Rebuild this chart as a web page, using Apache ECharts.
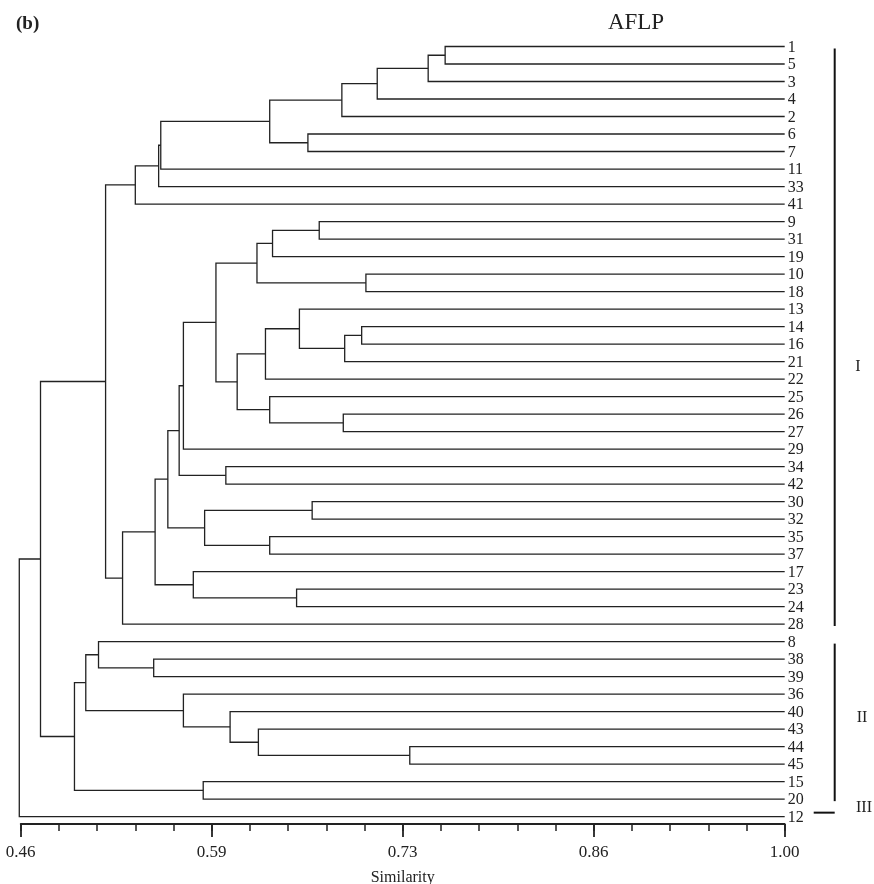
<!DOCTYPE html>
<html>
<head>
<meta charset="utf-8">
<script src="https://cdn.jsdelivr.net/npm/echarts@6/dist/echarts.min.js"></script>
<style>
  html, body { margin: 0; padding: 0; background: #fff; }
  #chart { width: 874px; height: 884px; }
</style>
</head>
<body>
<div id="chart"></div>
<script>
// leaf order from top to bottom
const leafOrder = ['1', '5', '3', '4', '2', '6', '7', '11', '33', '41',
  '9', '31', '19', '10', '18', '13', '14', '16', '21', '22',
  '25', '26', '27', '29', '34', '42', '30', '32', '35', '37',
  '17', '23', '24', '28', '8', '38', '39', '36', '40', '43',
  '44', '45', '15', '20', '12'];

// merges: [child a, child b, similarity]; 'mN' = result of merge N
const merges = [
  ['1', '5', 0.760],    // m0
  ['m0', '3', 0.748],   // m1
  ['m1', '4', 0.712],   // m2
  ['m2', '2', 0.687],   // m3
  ['6', '7', 0.663],    // m4
  ['m3', 'm4', 0.636],  // m5
  ['m5', '11', 0.559],  // m6
  ['m6', '33', 0.5575], // m7
  ['m7', '41', 0.541],  // m8
  ['9', '31', 0.671],   // m9
  ['m9', '19', 0.638],  // m10
  ['10', '18', 0.704],  // m11
  ['m10', 'm11', 0.627],// m12
  ['14', '16', 0.701],  // m13
  ['m13', '21', 0.689], // m14
  ['13', 'm14', 0.657], // m15
  ['m15', '22', 0.633], // m16
  ['26', '27', 0.688],  // m17
  ['25', 'm17', 0.636], // m18
  ['m16', 'm18', 0.613],// m19
  ['m12', 'm19', 0.598],// m20
  ['m20', '29', 0.575], // m21
  ['34', '42', 0.605],  // m22
  ['m21', 'm22', 0.572],// m23
  ['30', '32', 0.666],  // m24
  ['35', '37', 0.636],  // m25
  ['m24', 'm25', 0.590],// m26
  ['m23', 'm26', 0.564],// m27
  ['23', '24', 0.655],  // m28
  ['17', 'm28', 0.582], // m29
  ['m27', 'm29', 0.555],// m30
  ['m30', '28', 0.532], // m31
  ['m8', 'm31', 0.520], // m32
  ['38', '39', 0.554],  // m33
  ['8', 'm33', 0.515],  // m34
  ['44', '45', 0.735],  // m35
  ['43', 'm35', 0.628], // m36
  ['40', 'm36', 0.608], // m37
  ['36', 'm37', 0.575], // m38
  ['m34', 'm38', 0.506],// m39
  ['15', '20', 0.589],  // m40
  ['m39', 'm40', 0.498],// m41
  ['m32', 'm41', 0.474],// m42
  ['m42', '12', 0.459]  // m43
];

// cluster groups: [name, first leaf, last leaf]
const clusters = [['I', '1', '28'], ['II', '8', '20'], ['III', '12', '12']];

const tickValues = [0.46, 0.595, 0.73, 0.865, 1.00];
const tickLabels = ['0.46', '0.59', '0.73', '0.86', '1.00'];

const FONT = '"Liberation Serif", "DejaVu Serif", serif';
const INK = '#222';

// node positions (x = similarity, y = leaf row)
const nodePos = {};
leafOrder.forEach((l, i) => { nodePos[l] = [1.0, i]; });
const linkData = merges.map(([a, b, s], i) => {
  const pa = nodePos[a], pb = nodePos[b];
  nodePos['m' + i] = [s, (pa[1] + pb[1]) / 2];
  return [s, pa[1], pb[1], pa[0], pb[0]];
});

const myChart = echarts.init(document.getElementById('chart'));

const option = {
  animation: false,
  backgroundColor: '#fff',
  grid: { left: 20.7, right: 89.3, top: 29, bottom: 60, containLabel: false, outerBoundsMode: 'none' },
  xAxis: [{
    type: 'value',
    min: 0.46,
    max: 1.00,
    position: 'bottom',
    splitLine: { show: false },
    axisLine: { show: true, onZero: false, lineStyle: { color: INK, width: 1.8 } },
    axisTick: { show: true, customValues: tickValues, length: 13, lineStyle: { color: INK, width: 1.8 } },
    axisLabel: {
      customValues: tickValues,
      margin: 20,
      color: INK,
      fontFamily: FONT,
      fontSize: 17,
      formatter: function(v) {
        const k = tickValues.findIndex(t => Math.abs(t - v) < 1e-6);
        return k >= 0 ? tickLabels[k] : '';
      }
    },
    name: 'Similarity',
    nameLocation: 'middle',
    nameGap: 46,
    nameTextStyle: { color: INK, fontFamily: FONT, fontSize: 16 }
  }, {
    // minor ticks
    type: 'value',
    min: 0,
    max: 20,
    interval: 1,
    position: 'bottom',
    splitLine: { show: false },
    axisLine: { show: false, onZero: false },
    axisTick: { show: true, length: 7, lineStyle: { color: INK, width: 1.5 } },
    axisLabel: { show: false }
  }],
  yAxis: {
    type: 'value',
    inverse: true,
    min: -1,
    max: 44.42,
    show: false
  },
  graphic: [
    { type: 'text', x: 16, y: 24, style: { text: '(b)', font: 'bold 19px ' + FONT, fill: INK, verticalAlign: 'middle' } },
    { type: 'text', x: 636, y: 23, style: { text: 'AFLP', font: '23px ' + FONT, fill: INK, align: 'center', verticalAlign: 'middle' } },
    { type: 'text', x: 858, y: 367, style: { text: 'I', font: '16px ' + FONT, fill: INK, align: 'center', verticalAlign: 'middle' } },
    { type: 'text', x: 862, y: 718, style: { text: 'II', font: '16px ' + FONT, fill: INK, align: 'center', verticalAlign: 'middle' } },
    { type: 'text', x: 864, y: 808, style: { text: 'III', font: '16px ' + FONT, fill: INK, align: 'center', verticalAlign: 'middle' } }
  ],
  series: [{
    // dendrogram links
    type: 'custom',
    coordinateSystem: 'cartesian2d',
    clip: false,
    data: linkData,
    encode: { x: [0, 3, 4], y: [1, 2] },
    renderItem: function(params, api) {
      const s = api.value(0), ya = api.value(1), yb = api.value(2);
      const xa = api.value(3), xb = api.value(4);
      return {
        type: 'polyline',
        shape: { points: [api.coord([xa, ya]), api.coord([s, ya]), api.coord([s, yb]), api.coord([xb, yb])] },
        style: { stroke: INK, lineWidth: 1.3, fill: 'none' }
      };
    }
  }, {
    // leaf labels
    type: 'custom',
    coordinateSystem: 'cartesian2d',
    clip: false,
    data: leafOrder.map((l, i) => [1.0, i]),
    renderItem: function(params, api) {
      const p = api.coord([api.value(0), api.value(1)]);
      return {
        type: 'text',
        x: p[0] + 3,
        y: p[1] + 1,
        style: { text: leafOrder[params.dataIndex], font: '16px ' + FONT, fill: INK, align: 'left', verticalAlign: 'middle' }
      };
    }
  }, {
    // cluster brackets
    type: 'custom',
    coordinateSystem: 'cartesian2d',
    clip: false,
    data: clusters.map(c => [1.0, leafOrder.indexOf(c[1]), leafOrder.indexOf(c[2])]),
    renderItem: function(params, api) {
      const p1 = api.coord([api.value(0), api.value(1)]);
      const p2 = api.coord([api.value(0), api.value(2)]);
      const bx = p1[0] + 50;
      if (api.value(1) === api.value(2)) {
        return {
          type: 'line',
          shape: { x1: bx - 21, y1: p1[1] - 4, x2: bx, y2: p1[1] - 4 },
          style: { stroke: '#111', lineWidth: 2 }
        };
      }
      return {
        type: 'line',
        shape: { x1: bx, y1: p1[1] + 2, x2: bx, y2: p2[1] + 2 },
        style: { stroke: '#111', lineWidth: 2 }
      };
    }
  }]
};

myChart.setOption(option);
</script>
</body>
</html>
